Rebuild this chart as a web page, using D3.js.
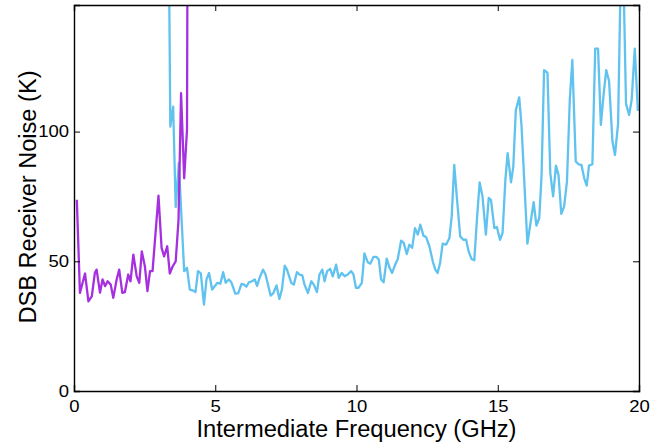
<!DOCTYPE html>
<html>
<head>
<meta charset="utf-8">
<script src="https://cdn.jsdelivr.net/npm/d3@7"></script>
<style>
  body { margin: 0; background: #fff; }
  .canvas { width: 664px; height: 445px; }
  text { font-family: "Liberation Sans", Arial, Helvetica, sans-serif; fill: #000; }
</style>
</head>
<body>
<div class="canvas" id="canvas"></div>
<script>
// --- data (GHz, K)
var purpleFreq = [0.10,0.21,0.39,0.51,0.63,0.74,0.80,0.92,1.01,1.10,1.19,1.30,1.39,1.51,1.60,1.71,1.80,1.92,2.00,2.10,2.22,2.31,2.40,2.51,2.60,2.69,2.78,2.99,3.10,3.19,3.30,3.39,3.49,3.60,3.70,3.79,3.90,4.00,4.05];
var purpleNoise = [73.7,37.8,45.3,34.6,36.5,45.6,46.8,37.9,43,40.4,42.3,41,35.9,43,46.8,37.8,38.1,44.9,42.3,52.6,44.2,41.7,53.8,48,38.5,46.2,46.2,75.3,55.2,51.9,55.8,45.3,48,50,66,114.8,82,100.6,300];

var blueFreq = [3.32,3.41,3.51,3.60,3.71,3.90,4.00,4.10,4.22,4.30,4.39,4.49,4.60,4.69,4.78,4.89,4.98,5.08,5.18,5.28,5.37,5.48,5.57,5.71,5.81,5.93,6.02,6.10,6.19,6.30,6.40,6.48,6.57,6.69,6.78,6.96,7.05,7.17,7.27,7.36,7.46,7.54,7.69,7.78,7.89,7.99,8.08,8.16,8.28,8.40,8.49,8.60,8.69,8.79,8.87,8.96,9.07,9.16,9.28,9.37,9.48,9.58,9.69,9.81,9.89,9.98,10.07,10.19,10.28,10.40,10.49,10.60,10.70,10.79,10.87,10.96,11.07,11.17,11.26,11.37,11.46,11.58,11.67,11.78,11.87,11.97,12.07,12.17,12.26,12.37,12.46,12.58,12.70,12.79,12.87,12.96,13.05,13.17,13.29,13.37,13.46,13.56,13.67,13.78,13.88,13.97,14.07,14.17,14.27,14.36,14.46,14.58,14.68,14.76,14.88,14.97,15.08,15.17,15.27,15.35,15.47,15.55,15.64,15.76,15.84,15.96,16.05,16.15,16.27,16.37,16.47,16.55,16.64,16.76,16.86,16.96,17.06,17.15,17.25,17.35,17.45,17.55,17.64,17.76,17.86,17.96,18.06,18.15,18.23,18.35,18.45,18.55,18.65,18.74,18.84,18.94,19.06,19.15,19.26,19.36,19.45,19.54,19.65,19.74,19.85,19.96];
var blueNoise = [220,101.9,109.6,70.9,87.8,46.2,47.5,39.1,38.7,38.1,46.2,45.3,33.3,43,45.5,39.1,40.4,41.7,41.4,45.8,41.7,43,41.9,37.5,37.6,41.3,41,40.2,41.9,42.3,43,40.5,43.6,46.8,44.9,36.8,37.6,40.7,35.5,39.1,48.3,46.8,41.7,41,45.8,44.9,44.6,41,37.8,42.3,41,38.1,44.9,46.8,42.3,46.2,47.1,44.2,48.7,43.6,45.5,44.2,44.9,46.2,45,39.8,39.8,41.7,53,49.6,49.1,51.7,51.7,50.7,43,41.9,51,47.5,45.5,48.7,50.9,58,57.1,52.8,56.4,55.2,62.8,60.3,64.1,59.9,59.4,55.8,50,46.8,45.5,49.4,56.8,56.4,59,67.3,87.2,73.7,59.6,58.3,58.3,53.8,50.9,50.4,67.3,80.4,75,60.3,74.4,73.7,62.8,63.2,58.3,60.9,81.4,91.7,80.4,86.5,108.3,113.2,102.6,76.3,56.8,64.1,72.8,63.8,66.7,83,123.7,122.7,84,75,86.9,83.3,68.3,71.2,80.8,112.2,127.6,88.5,87.4,87.2,82.1,79.2,86.9,87.4,132,132,102.6,113.5,123.7,119.5,96.2,91,103.2,165,160,110.8,106.4,112.2,132,108];

var xTicks = [0, 5, 10, 15, 20];
var yTicks = [0, 50, 100];

// --- Margin convention
var M = {top:5, right:25, bottom:54, left:74};
var outerWidth = 664, outerHeight = 445;
var w = outerWidth - M.left - M.right,
    h = outerHeight - M.top - M.bottom;

var svg = d3.select('.canvas')
  .append('svg')
  .attr('width', outerWidth)
  .attr('height', outerHeight);

var plot = svg.append('g')
  .attr('transform', 'translate(' + M.left + ',' + M.top + ')');

// --- scales
var scaleX = d3.scaleLinear().domain([0, 20]).range([0, w]);
var scaleY = d3.scaleLinear().domain([0, 148.8]).range([h, 0]);

svg.append('defs').append('clipPath')
  .attr('id', 'clip')
  .append('rect')
  .attr('width', w)
  .attr('height', h);

var line = d3.line()
  .x(function(d){ return scaleX(d[0]); })
  .y(function(d){ return scaleY(d[1]); });

var lines = plot.append('g').attr('clip-path', 'url(#clip)');

lines.append('path')
  .attr('d', line(d3.zip(blueFreq, blueNoise)))
  .attr('fill', 'none')
  .attr('stroke', '#60c2ef')
  .attr('stroke-width', 2.3)
  .attr('stroke-linejoin', 'round');

lines.append('path')
  .attr('d', line(d3.zip(purpleFreq, purpleNoise)))
  .attr('fill', 'none')
  .attr('stroke', '#a630df')
  .attr('stroke-width', 2.3)
  .attr('stroke-linejoin', 'round');

// --- axes, ticks pointing inwards on all four sides
var tk = 6;
var bottomAxis = d3.axisBottom(scaleX).tickValues(xTicks).tickSize(-tk).tickPadding(9.5);
var leftAxis = d3.axisLeft(scaleY).tickValues(yTicks).tickSize(-tk).tickPadding(5);
var topAxis = d3.axisTop(scaleX).tickValues(xTicks).tickSize(-tk).tickFormat('');
var rightAxis = d3.axisRight(scaleY).tickValues(yTicks).tickSize(-tk).tickFormat('');

plot.append('g').attr('transform', 'translate(0,' + h + ')').call(bottomAxis);
plot.append('g').call(leftAxis);
plot.append('g').call(topAxis);
plot.append('g').attr('transform', 'translate(' + w + ',0)').call(rightAxis);

plot.selectAll('.domain').attr('stroke', '#000').attr('stroke-width', 1.4);
plot.selectAll('.tick line').attr('stroke', '#000').attr('stroke-width', 1);

// the picture is a little wider than tall, so stretch the glyphs sideways
plot.selectAll('.tick text')
  .style('font-size', '16.5px')
  .each(function(){
    var t = d3.select(this);
    var len = this.getComputedTextLength();
    if (len > 0) t.attr('textLength', len * 1.12).attr('lengthAdjust', 'spacingAndGlyphs');
  });

// --- axis titles
svg.append('text')
  .attr('x', M.left + w / 2)
  .attr('y', 437)
  .attr('text-anchor', 'middle')
  .style('font-size', '23px')
  .attr('textLength', 320)
  .attr('lengthAdjust', 'spacingAndGlyphs')
  .text('Intermediate Frequency (GHz)');

svg.append('text')
  .attr('transform', 'translate(36,' + 197 + ') rotate(-90)')
  .attr('text-anchor', 'middle')
  .style('font-size', '23px')
  .attr('textLength', 253)
  .attr('lengthAdjust', 'spacingAndGlyphs')
  .text('DSB Receiver Noise (K)');
</script>
</body>
</html>
